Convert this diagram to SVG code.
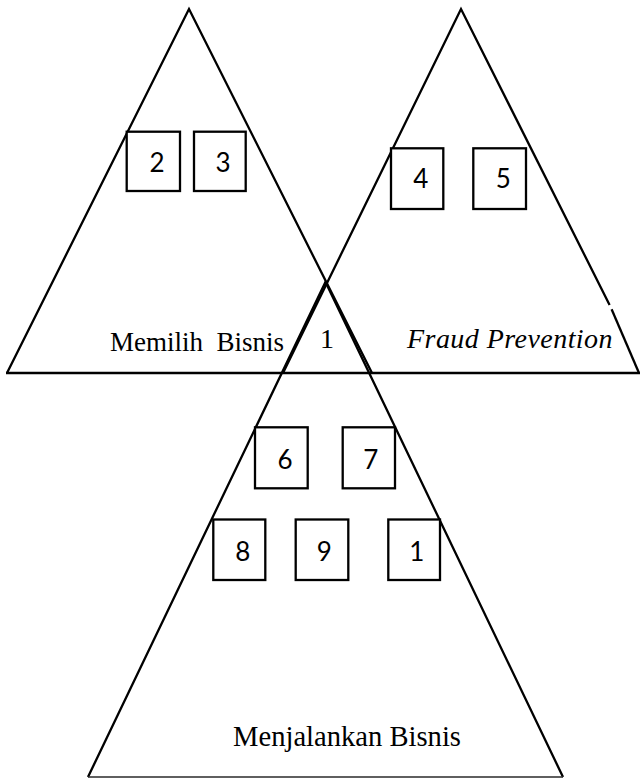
<svg xmlns="http://www.w3.org/2000/svg" width="642" height="778" viewBox="0 0 642 778">
  <style>
    .edge { fill: none; stroke: #000; stroke-width: 2.3; stroke-linejoin: miter; }
    .base2 { fill: none; stroke: #2a2a2a; stroke-width: 1.6; }
    .box { fill: #fff; stroke: #000; stroke-width: 2.3; }
    .num { font-family: Lato, "Liberation Sans", sans-serif; font-size: 26px; fill: #000; text-anchor: middle; }
    .lbl { font-family: "Liberation Serif", "Times New Roman", serif; fill: #000; }
  </style>

  <!-- triangle outlines -->
  <g id="connectors">
    <!-- left triangle: Memilih Bisnis -->
    <g id="tri-left">
      <polyline class="edge" points="7,373 189,9 372,373"/>
    </g>
    <!-- right triangle: Fraud Prevention (small break in the right side) -->
    <g id="tri-right">
      <polyline class="edge" points="283,373 461,9 609.6,305"/>
      <polyline class="edge" points="611.6,309.2 639,373"/>
    </g>
    <!-- shared base of the two upper triangles -->
    <line class="edge" x1="6" y1="373" x2="640" y2="373"/>
    <!-- bottom triangle: Menjalankan Bisnis -->
    <g id="tri-bottom">
      <polyline class="edge" points="88,777 325.5,282 563,777"/>
      <line class="base2" x1="88" y1="777" x2="563" y2="777"/>
    </g>
  </g>

  <!-- labels -->
  <g id="label-memilih">
    <text class="lbl" x="110" y="351" font-size="27" xml:space="preserve">Memilih  Bisnis</text>
  </g>
  <g id="label-center">
    <text class="lbl" x="327" y="348" font-size="28" text-anchor="middle">1</text>
  </g>
  <g id="label-fraud">
    <text class="lbl" x="407" y="348" font-size="28" font-style="italic" letter-spacing="0.45">Fraud Prevention</text>
  </g>
  <g id="label-menjalankan">
    <text class="lbl" x="347" y="746" font-size="28.6" text-anchor="middle">Menjalankan Bisnis</text>
  </g>

  <!-- numbered boxes -->
  <g id="node-2"><rect class="box" x="126.7" y="131.7" width="53.3" height="59.3"/><text class="num" x="157" y="172">2</text></g>
  <g id="node-3"><rect class="box" x="194" y="131.7" width="51.7" height="59.3"/><text class="num" x="223" y="172">3</text></g>
  <g id="node-4"><rect class="box" x="391" y="148.3" width="52.3" height="60.7"/><text class="num" x="420.7" y="187.5">4</text></g>
  <g id="node-5"><rect class="box" x="473.3" y="148.3" width="52.7" height="60.7"/><text class="num" x="503.3" y="187.5">5</text></g>
  <g id="node-6"><rect class="box" x="255" y="427.3" width="52.7" height="61"/><text class="num" x="285" y="469">6</text></g>
  <g id="node-7"><rect class="box" x="342.7" y="427.3" width="52.3" height="61"/><text class="num" x="370.7" y="469">7</text></g>
  <g id="node-8"><rect class="box" x="213.3" y="519.5" width="52" height="60.5"/><text class="num" x="242.7" y="561">8</text></g>
  <g id="node-9"><rect class="box" x="295.7" y="519.5" width="52.6" height="60.5"/><text class="num" x="324.3" y="561">9</text></g>
  <g id="node-1"><rect class="box" x="388.3" y="519.5" width="51.7" height="60.5"/><text class="num" x="416.7" y="561">1</text></g>
</svg>
